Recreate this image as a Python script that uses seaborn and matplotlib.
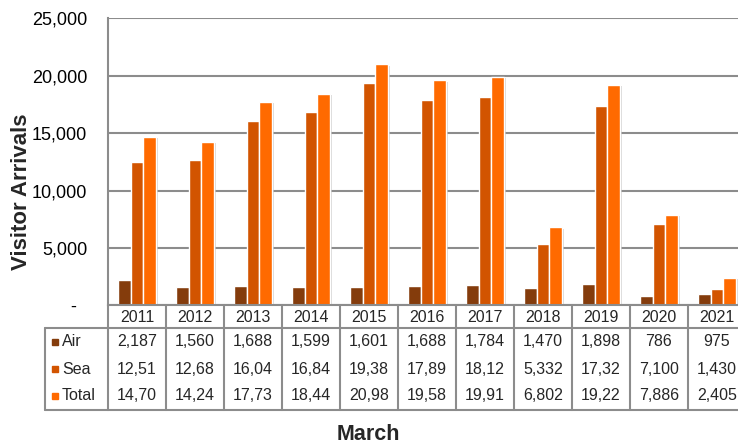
import pandas as pd
import numpy as np
import matplotlib
matplotlib.use("Agg")
import matplotlib.pyplot as plt
import seaborn as sns
from matplotlib.ticker import FuncFormatter
from matplotlib.transforms import blended_transform_factory
from matplotlib.patches import Rectangle
from matplotlib.lines import Line2D
import matplotlib.patheffects as pe

years = ["2011", "2012", "2013", "2014", "2015", "2016", "2017", "2018", "2019", "2020", "2021"]
air = [2187, 1560, 1688, 1599, 1601, 1688, 1784, 1470, 1898, 786, 975]
sea = [12515, 12684, 16045, 16846, 19385, 17894, 18127, 5332, 17325, 7100, 1430]
total = [14702, 14244, 17733, 18445, 20986, 19582, 19911, 6802, 19223, 7886, 2405]
modes = ["Air", "Sea", "Total"]
colors = ["#843C0C", "#D25400", "#FF6A00"]

df = pd.DataFrame({"Year": years * 3,
                   "Mode": np.repeat(modes, len(years)),
                   "Visitors": air + sea + total})

W, H = 738, 445
GRAY = "#8c8c8c"

sns.set_style("white")
plt.rcParams["font.family"] = ["Liberation Sans", "DejaVu Sans"]

fig = plt.figure(figsize=(W / 100, H / 100), dpi=100)
ax = fig.add_axes([108 / W, 1 - 305.3 / H, 638 / W, 287 / H])

sns.barplot(data=df, x="Year", y="Visitors", hue="Mode", palette=colors,
            width=0.65, edgecolor="white", linewidth=1, saturation=1,
            legend=False, ax=ax)
for bar in ax.patches:
    bar.set_path_effects([pe.SimplePatchShadow(offset=(1.5, -1), shadow_rgbFace="#bbbbbb", alpha=0.6),
                          pe.Normal()])

ax.set_ylim(0, 25000)
ax.set_yticks(range(0, 25001, 5000))
ax.yaxis.set_major_formatter(FuncFormatter(lambda v, p: "-  " if v == 0 else f"{int(v):,}"))
ax.tick_params(axis="y", length=0, pad=15, labelsize=13, labelcolor="black")
ax.tick_params(axis="x", length=0, labelbottom=False)
ax.grid(axis="y", color=GRAY, lw=1.5)
ax.set_axisbelow(True)
for s in ["top", "right"]:
    ax.spines[s].set_visible(False)
for s in ["left", "bottom"]:
    ax.spines[s].set_color(GRAY)
    ax.spines[s].set_linewidth(1.5)
ax.set_xlabel("")
ax.set_ylabel("")

# data table under the chart
tr = blended_transform_factory(ax.transData, fig.transFigure)
fy = lambda p: 1 - p / H
fx = lambda p: p / W
n = len(years)
top_hdr, top_data, bottom = 305.3, 328, 410
row_y = [342, 369, 396]

for i in range(n + 1):
    fig.add_artist(Line2D([i - 0.5, i - 0.5], [fy(top_hdr), fy(bottom)],
                          transform=tr, color=GRAY, lw=1.5))
for yy in [top_data, bottom]:
    fig.add_artist(Line2D([-0.5, n - 0.5], [fy(yy), fy(yy)], transform=tr, color=GRAY, lw=1.5))
    fig.add_artist(Line2D([fx(45), fx(108)], [fy(yy), fy(yy)], color=GRAY, lw=1.5))
fig.add_artist(Line2D([fx(45), fx(45)], [fy(top_data), fy(bottom)], color=GRAY, lw=1.5))

for i, y in enumerate(years):
    fig.text(i, fy(317), y, transform=tr, ha="center", va="center", fontsize=11.5)
for r, (vals, name, c) in enumerate(zip([air, sea, total], modes, colors)):
    fig.add_artist(Rectangle((fx(52), fy(row_y[r] + 3)), 6 / W, 6 / H, color=c))
    fig.text(fx(62), fy(row_y[r]), name, ha="left", va="center", fontsize=11.5)
    for i, v in enumerate(vals):
        fig.text(i, fy(row_y[r]), f"{v:,}"[:5], transform=tr, ha="center", va="center", fontsize=11.5)

fig.text(fx(368), fy(434), "March", ha="center", va="center", fontsize=15.5, fontweight="bold")
fig.text(fx(22), fy(192), "Visitor Arrivals", ha="center", va="center", rotation=90,
         fontsize=16, fontweight="bold")

fig.savefig("out.png", dpi=100)
